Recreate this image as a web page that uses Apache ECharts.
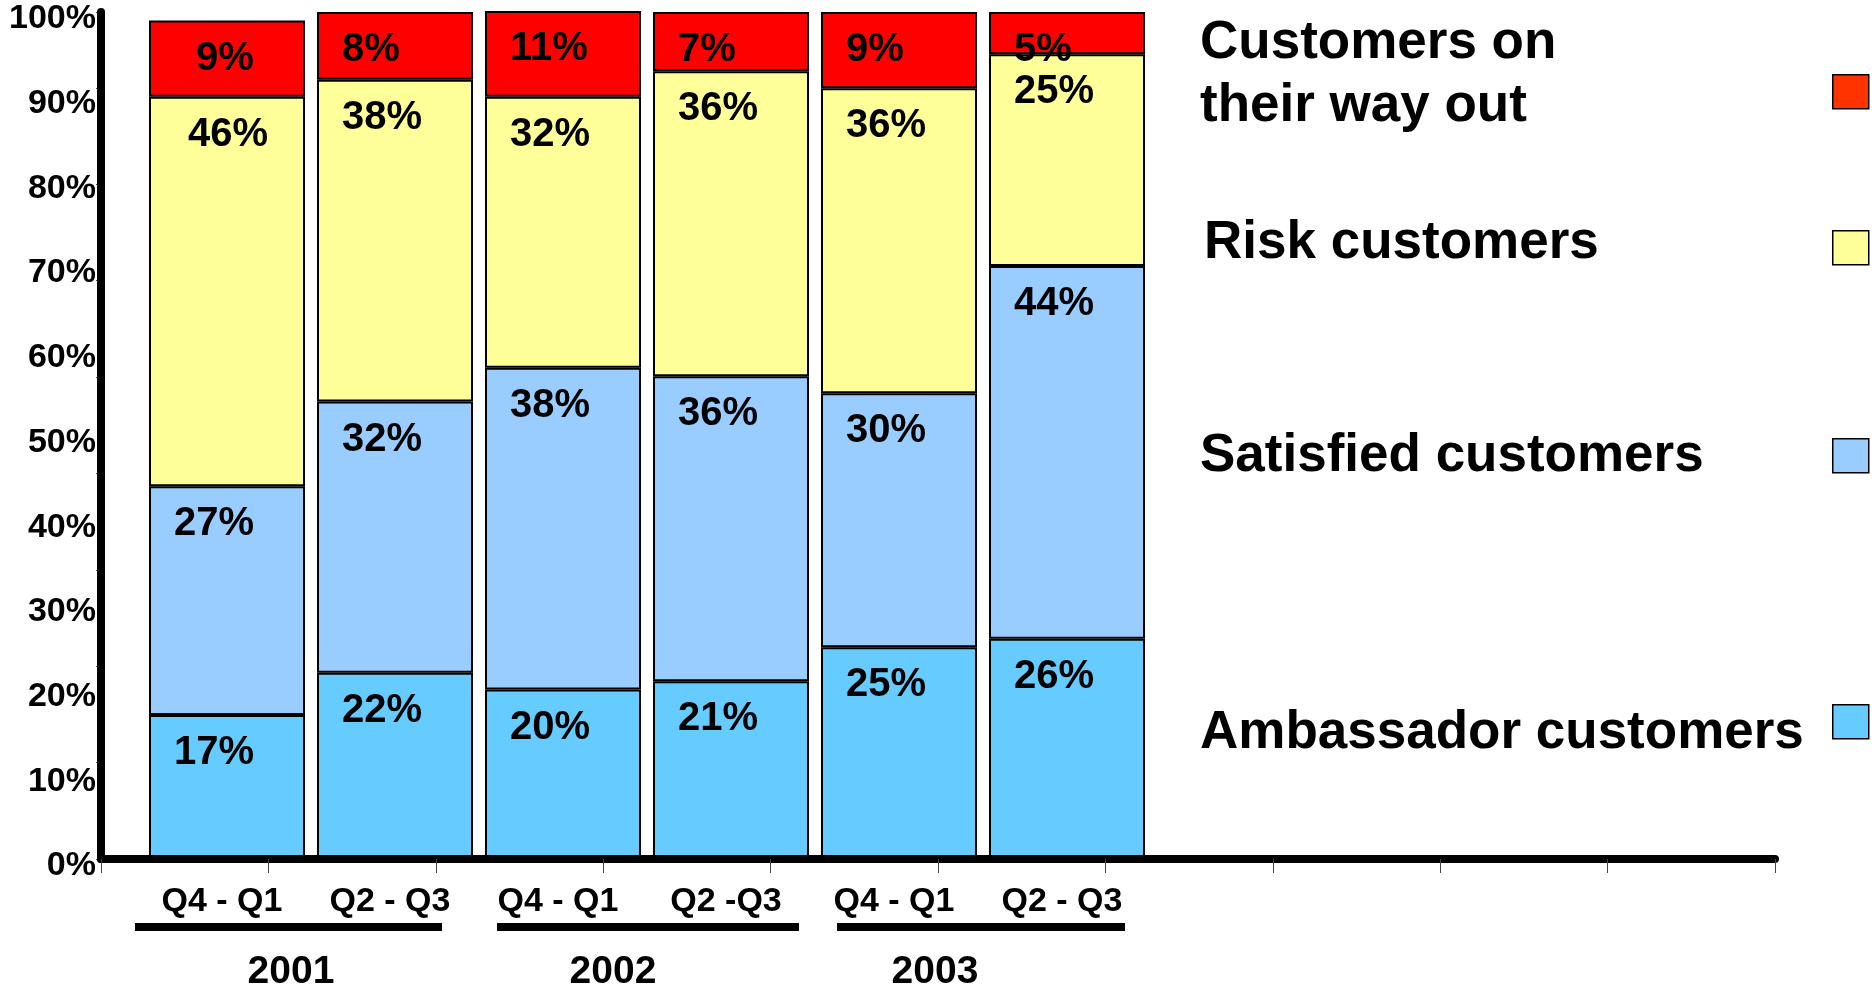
<!DOCTYPE html>
<html>
<head>
<meta charset="utf-8">
<title>Customer segments</title>
<script src="https://cdn.jsdelivr.net/npm/echarts@6/dist/echarts.min.js"></script>
<style>
  html, body { margin: 0; padding: 0; background: #ffffff; }
  #chart { width: 1876px; height: 992px; }
</style>
</head>
<body>
<div id="chart"></div>
<script>
// Half-year periods and the year each pair belongs to
const periods = ['Q4 - Q1', 'Q2 - Q3', 'Q4 - Q1', 'Q2 -Q3', 'Q4 - Q1', 'Q2 - Q3'];
const years = ['2001', '2002', '2003'];

// Share of customers per segment (%), bottom to top of each stack
const ambassador = [17, 22, 20, 21, 25, 26];
const satisfied = [27, 32, 38, 36, 30, 44];
const risk = [46, 38, 32, 36, 36, 25];
const wayOut = [9, 8, 11, 7, 9, 5];

const seriesNames = ['Ambassador customers', 'Satisfied customers', 'Risk customers', 'Customers on their way out'];
const legendTexts = ['Ambassador customers', 'Satisfied customers', 'Risk customers', 'Customers on\ntheir way out'];

const FONT = '"Liberation Sans", Arial, Helvetica, sans-serif';
const barColors = ['#66CCFF', '#99CCFF', '#FFFF99', '#FF0000'];
const keyColors = ['#66CCFF', '#99CCFF', '#FFFF99', '#FF3300'];

const chart = echarts.init(document.getElementById('chart'), null, { renderer: 'canvas' });

const segLabel = {
  show: true,
  position: [25, 38],
  align: 'left',
  verticalAlign: 'middle',
  formatter: '{c}%',
  fontFamily: FONT,
  fontSize: 40,
  fontWeight: 'bold',
  color: '#000'
};

// first column has its upper two labels set a little further in
function withLabelShift(values, shifts) {
  return values.map((v, i) => (shifts[i] != null ? { value: v, label: { position: [shifts[i], 38] } } : v));
}

const stacks = [
  ambassador,
  satisfied,
  withLabelShift(risk, [39]),
  withLabelShift(wayOut, [47])
];

const series = stacks.map((data, i) => ({
  name: seriesNames[i],
  type: 'bar',
  stack: 'share',
  xAxisIndex: 1,
  yAxisIndex: 2,
  barWidth: 156,
  data: data,
  itemStyle: { color: barColors[i], borderColor: '#000', borderWidth: 2 },
  label: segLabel,
  emphasis: { disabled: true }
}));

// key: text block on the left, swatch at the far right
const textLefts = [1195, 1195, 1199, 1195];
const textTops = [703, 426, 213, 12];
const textLineHeights = [60, 60, 60, 63];
const swatchTops = [704, 438, 230, 74];
const legends = [];
seriesNames.forEach((name, i) => {
  legends.push({
    data: [name],
    left: textLefts[i],
    top: textTops[i],
    padding: 0,
    icon: 'none',
    itemWidth: 0,
    itemHeight: 10,
    selectedMode: false,
    formatter: () => legendTexts[i],
    textStyle: { fontFamily: FONT, fontSize: 53, fontWeight: 'bold', color: '#000', lineHeight: textLineHeights[i] }
  });
  legends.push({
    data: [name],
    left: 1832,
    top: swatchTops[i],
    padding: 0,
    icon: 'rect',
    itemWidth: 36,
    itemHeight: 34,
    selectedMode: false,
    formatter: () => '',
    textStyle: { fontSize: 1 },
    itemStyle: { color: keyColors[i], borderColor: '#000', borderWidth: 1.5 }
  });
});

const option = {
  backgroundColor: '#ffffff',
  animation: false,
  textStyle: { fontFamily: FONT },
  grid: [
    { left: 101, right: 101, top: 12, bottom: 133 },
    { left: 143, width: 1008, top: 12, bottom: 133 },
    { left: 130, width: 966, top: 12, bottom: 133 }
  ],
  xAxis: [
    {
      gridIndex: 0, type: 'value', min: 0, max: 10, interval: 1, z: 5,
      axisLine: { show: true, lineStyle: { color: '#000', width: 8 } },
      axisTick: { show: true, length: 14, lineStyle: { color: '#444', width: 1 } },
      axisLabel: { show: false },
      splitLine: { show: false }
    },
    {
      gridIndex: 1, type: 'category', data: periods,
      axisLine: { show: false }, axisTick: { show: false },
      axisLabel: { fontFamily: FONT, fontSize: 34, fontWeight: 'bold', color: '#000', margin: 26, padding: [0, 10, 0, 0] }
    },
    {
      gridIndex: 2, type: 'category', data: years,
      axisLine: { show: false }, axisTick: { show: false },
      axisLabel: { fontFamily: FONT, fontSize: 39, fontWeight: 'bold', color: '#000', margin: 101 }
    }
  ],
  yAxis: [
    {
      gridIndex: 0, type: 'value', position: 'left', min: 0, max: 100, interval: 10, z: 5,
      axisLine: { show: true, lineStyle: { color: '#000', width: 8 } },
      axisTick: { show: false },
      splitLine: { show: false },
      axisLabel: {
        formatter: '{value}%', fontFamily: FONT, fontSize: 34, fontWeight: 'bold', color: '#000',
        margin: 5, verticalAlign: 'top', lineHeight: 14
      }
    },
    {
      gridIndex: 0, type: 'value', position: 'left', offset: 0, min: 0, max: 100, interval: 11.38,
      axisLine: { show: false },
      axisTick: { show: true, length: 5, lineStyle: { color: '#444', width: 1 } },
      axisLabel: { show: false },
      splitLine: { show: false }
    },
    { gridIndex: 1, type: 'value', min: 0, max: 100, show: false },
    { gridIndex: 2, type: 'value', min: 0, max: 100, show: false }
  ],
  legend: legends,
  graphic: [
    { type: 'rect', shape: { x: 135, y: 923, width: 307, height: 8 }, style: { fill: '#000' } },
    { type: 'rect', shape: { x: 497, y: 923, width: 302, height: 8 }, style: { fill: '#000' } },
    { type: 'rect', shape: { x: 837, y: 923, width: 288, height: 8 }, style: { fill: '#000' } }
  ],
  series: series
};

chart.setOption(option);
</script>
</body>
</html>
